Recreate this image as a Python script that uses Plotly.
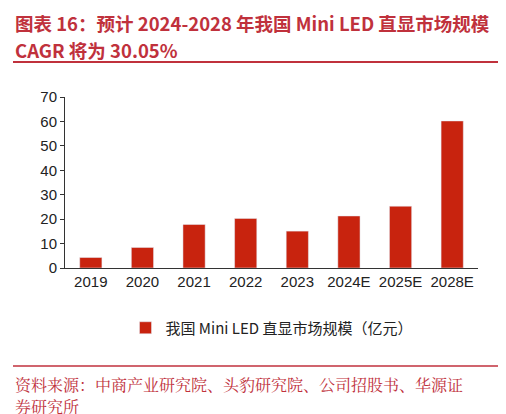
import plotly.graph_objects as go

categories = ["2019", "2020", "2021", "2022", "2023", "2024E", "2025E", "2028E"]
values = [4.3, 8.4, 17.8, 20.3, 15.1, 21.3, 25.3, 60.2]
series_name = "我国 Mini LED 直显市场规模（亿元）"

W, H = 506, 414
L, R, T, B = 57, 36, 89, 154
pw, ph = W - L - R, H - T - B
def px(x): return (x - L) / pw
def py(y): return (H - B - y) / ph

red = "#C0313C"
font = "Noto Sans CJK SC"
fig = go.Figure(go.Bar(x=categories, y=values, name=series_name, marker_color="#C8230E", width=0.43))
fig.update_layout(
    width=W, height=H, margin=dict(l=L, r=R, t=T, b=B, autoexpand=False),
    plot_bgcolor="white", paper_bgcolor="white",
    font=dict(family=font, size=14, color="#222"),
    showlegend=True,
    legend=dict(orientation="h", x=0.5, xanchor="center", y=py(320), yanchor="middle", font=dict(size=15)),
    yaxis=dict(range=[0, 70], dtick=10, showline=True, linecolor="#333", ticks="outside", ticklen=4,
               tickcolor="#333", showgrid=False, zeroline=False, tickfont=dict(size=15, family="Liberation Sans")),
    xaxis=dict(showline=True, linecolor="#333", ticks="", tickfont=dict(size=15, family="Liberation Sans")),
    shapes=[
        dict(type="line", xref="paper", yref="paper", x0=px(5), x1=px(501), y0=py(54), y1=py(54), line=dict(color=red, width=2)),
        dict(type="line", xref="paper", yref="paper", x0=px(5), x1=px(501), y0=py(358), y1=py(358), line=dict(color=red, width=1.5)),
    ],
    annotations=[
        dict(xref="paper", yref="paper", x=px(5), y=py(15), xanchor="left", yanchor="middle", showarrow=False,
             text="<b>图表 16：预计 2024-2028 年我国 Mini LED 直显市场规模</b>", font=dict(size=18.5, color=red, family=font)),
        dict(xref="paper", yref="paper", x=px(5), y=py(42), xanchor="left", yanchor="middle", showarrow=False,
             text="<b>CAGR 将为 30.05%</b>", font=dict(size=18.5, color=red, family=font)),
        dict(xref="paper", yref="paper", x=px(5), y=py(376), xanchor="left", yanchor="middle", showarrow=False,
             text="资料来源：中商产业研究院、头豹研究院、公司招股书、华源证", font=dict(size=16, color=red, family="Noto Serif CJK SC, " + font)),
        dict(xref="paper", yref="paper", x=px(5), y=py(398), xanchor="left", yanchor="middle", showarrow=False,
             text="券研究所", font=dict(size=16, color=red, family="Noto Serif CJK SC, " + font)),
    ],
)
fig.write_html("out.html")
